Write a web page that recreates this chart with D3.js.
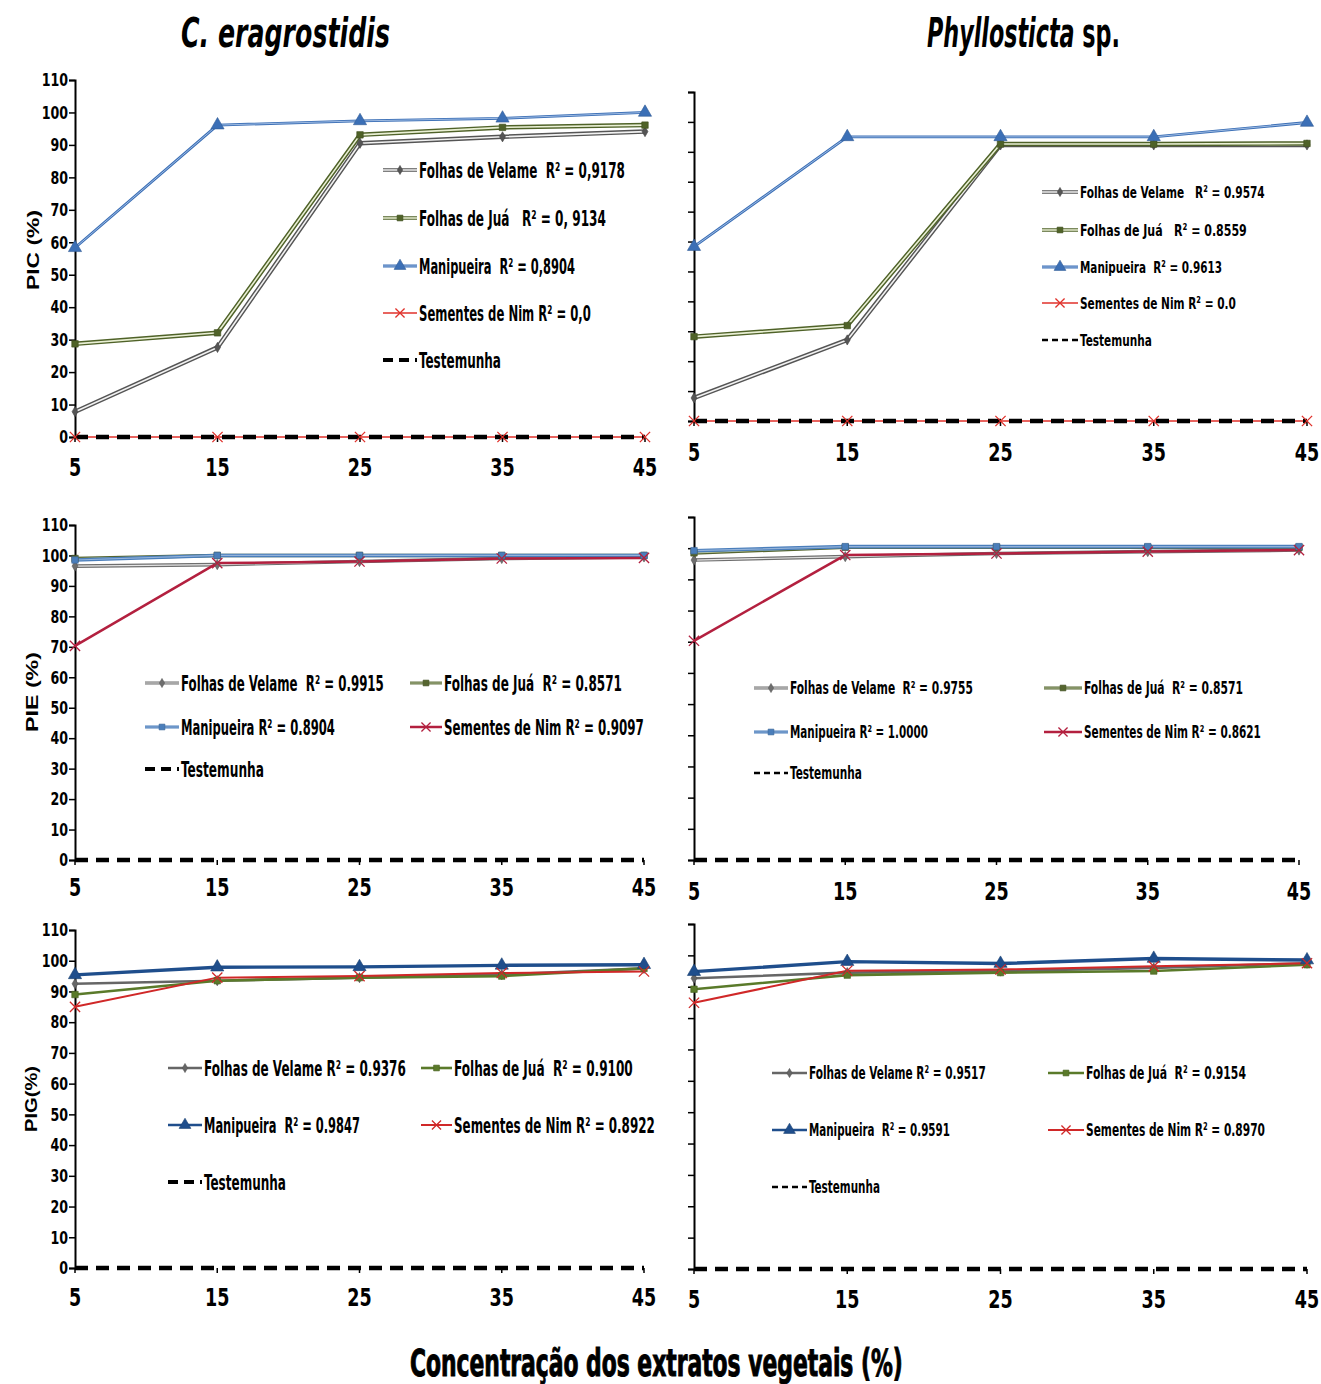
<!DOCTYPE html>
<html>
<head>
<meta charset="utf-8">
<script src="https://cdn.jsdelivr.net/npm/d3@7"></script>
<style>
  body { margin: 0; background: #fff; }
  svg { display: block; }
  .narrow { font-family: "Liberation Sans Narrow", "DejaVu Sans Condensed", Arial, sans-serif; font-weight: bold; }
</style>
</head>
<body>
<script>
// x categories and y ticks
var concentrations = [5, 15, 25, 35, 45];
var yTickValues = [0, 10, 20, 30, 40, 50, 60, 70, 80, 90, 100, 110];

// PIC - C. eragrostidis
var picCerVelame = [7.8, 27.6, 90.5, 92.5, 94.1];
var picCerJua = [28.7, 32.1, 93.1, 95.4, 96.1];
var picCerMani = [58.3, 96.1, 97.4, 98.2, 100];
var picCerNim = [0, 0, 0, 0, 0];
var picCerTest = [0, 0, 0, 0, 0];

// PIC - Phyllosticta sp.
var picPhyVelame = [7.7, 27.1, 92.3, 92.3, 92.3];
var picPhyJua = [28.2, 31.9, 92.6, 92.6, 92.8];
var picPhyMani = [58.3, 95, 95, 95, 99.8];
var picPhyNim = [0, 0, 0, 0, 0];
var picPhyTest = [0, 0, 0, 0, 0];

// PIE - C. eragrostidis
var pieCerVelame = [96.5, 97, 98, 99, 99.5];
var pieCerJua = [99, 100, 100, 100, 100];
var pieCerMani = [98.5, 100, 100, 100, 100];
var pieCerNim = [70.3, 97.5, 98, 99, 99.2];
var pieCerTest = [0, 0, 0, 0, 0];

// PIE - Phyllosticta sp.
var piePhyVelame = [96.2, 97.3, 98.3, 98.9, 99.4];
var piePhyJua = [98.5, 100.3, 100.3, 100.3, 100.3];
var piePhyMani = [99.2, 100.5, 100.5, 100.5, 100.5];
var piePhyNim = [70.3, 97.8, 98.3, 98.9, 99.4];
var piePhyTest = [0, 0, 0, 0, 0];

// PIG - C. eragrostidis
var pigCerVelame = [92.5, 93.5, 94.5, 95.5, 97.5];
var pigCerJua = [89, 93.5, 94.5, 95, 97.5];
var pigCerMani = [95.4, 97.9, 98, 98.5, 98.7];
var pigCerNim = [85, 94.5, 95, 96, 96.5];
var pigCerTest = [0, 0, 0, 0, 0];

// PIG - Phyllosticta sp.
var pigPhyVelame = [92.7, 94.5, 95, 96, 97.5];
var pigPhyJua = [89.2, 93.7, 94.5, 95, 97];
var pigPhyMani = [94.8, 98, 97.4, 99, 98.5];
var pigPhyNim = [84.9, 95.1, 95.5, 96.5, 97.5];
var pigPhyTest = [0, 0, 0, 0, 0];

// legend texts
var legendPicCer = ["Folhas de Velame  R² = 0,9178", "Folhas de Juá   R² = 0, 9134", "Manipueira  R² = 0,8904", "Sementes de Nim R² = 0,0", "Testemunha"];
var legendPicPhy = ["Folhas de Velame   R² = 0.9574", "Folhas de Juá   R² = 0.8559", "Manipueira  R² = 0.9613", "Sementes de Nim R² = 0.0", "Testemunha"];
var legendPieCer = ["Folhas de Velame  R² = 0.9915", "Folhas de Juá  R² = 0.8571", "Manipueira R² = 0.8904", "Sementes de Nim R² = 0.9097", "Testemunha"];
var legendPiePhy = ["Folhas de Velame  R² = 0.9755", "Folhas de Juá  R² = 0.8571", "Manipueira R² = 1.0000", "Sementes de Nim R² = 0.8621", "Testemunha"];
var legendPigCer = ["Folhas de Velame R² = 0.9376", "Folhas de Juá  R² = 0.9100", "Manipueira  R² = 0.9847", "Sementes de Nim R² = 0.8922", "Testemunha"];
var legendPigPhy = ["Folhas de Velame R² = 0.9517", "Folhas de Juá  R² = 0.9154", "Manipueira  R² = 0.9591", "Sementes de Nim R² = 0.8970", "Testemunha"];

var seriesKeys = ["velame", "jua", "mani", "nim", "test"];

// line styles per row of panels
var styleTop = {
    velame: {color: "#555555", width: 4.5, inner: "#f2f2f2", innerWidth: 1.6, symbol: "diamond"},
    jua: {color: "#4f6228", width: 4.5, inner: "#eaf0d5", innerWidth: 1.6, symbol: "square"},
    mani: {color: "#3b6fb6", width: 2.8, inner: "#a9c3e6", innerWidth: 0.9, symbol: "triangle"},
    nim: {color: "#e0302a", width: 1.3, symbol: "x"},
    test: {color: "#000", width: 4.5, dash: "13,8"}
};
var styleMid = {
    velame: {color: "#6e6e6e", width: 3.6, inner: "#e6e6e6", innerWidth: 1.2, symbol: "diamond"},
    jua: {color: "#55652f", width: 3.6, inner: "#b9c7a2", innerWidth: 1.2, symbol: "square"},
    mani: {color: "#4a7ebb", width: 3.6, inner: "#93b2d9", innerWidth: 1.2, symbol: "square"},
    nim: {color: "#b3203f", width: 2.5, symbol: "x"},
    test: {color: "#000", width: 4.5, dash: "13,8"}
};
var styleBot = {
    velame: {color: "#666666", width: 2.6, symbol: "diamond"},
    jua: {color: "#5a7a2a", width: 2.6, symbol: "square"},
    mani: {color: "#1f4e8c", width: 3.4, symbol: "triangle"},
    nim: {color: "#d02828", width: 2, symbol: "x"},
    test: {color: "#000", width: 4.5, dash: "13,8"}
};

var svg = d3.select("body").append("svg")
    .attr("width", 1321)
    .attr("height", 1384);

var symbolTypes = {
    diamond: d3.symbolDiamond,
    square: d3.symbolSquare,
    triangle: d3.symbolTriangle,
    x: d3.symbolX
};

// squeeze a text horizontally so that it spans the given width (the
// original uses a very condensed face)
function fitText(t, x, y, width, rotate) {
    var w = t.node().getComputedTextLength();
    t.attr("x", 0).attr("y", 0)
        .attr("transform", "translate(" + x + "," + y + ")" + (rotate ? " rotate(" + rotate + ")" : "") +
            " scale(" + (width / w) + ",1)");
    return t;
}

function drawMarker(g, s, cx, cy, scale) {
    if (!s.symbol) return;
    var size = {diamond: 30, square: 42, triangle: 75, x: 70}[s.symbol] * (scale || 1);
    var path = d3.symbol().type(symbolTypes[s.symbol]).size(size)();
    var m = g.append("path")
        .attr("d", path)
        .attr("transform", "translate(" + cx + "," + cy + ")");
    if (s.symbol === "x") {
        m.attr("fill", "none").attr("stroke", s.color).attr("stroke-width", 1.3);
    } else {
        m.attr("fill", s.color).attr("stroke", d3.color(s.color).darker(0.6)).attr("stroke-width", 0.6);
    }
}

function strokeLine(g, d, s) {
    var p = g.append("path")
        .attr("d", d)
        .attr("fill", "none")
        .attr("stroke", s.color)
        .attr("stroke-width", s.width)
        .attr("stroke-linejoin", "round");
    if (s.dash) p.attr("stroke-dasharray", s.dash);
    if (s.inner) {
        g.append("path")
            .attr("d", d)
            .attr("fill", "none")
            .attr("stroke", s.inner)
            .attr("stroke-width", s.innerWidth)
            .attr("stroke-linejoin", "round");
    }
}

function drawPanel(p) {
    var x = d3.scaleLinear().domain([5, 45]).range([p.left, p.right]);
    var y = d3.scaleLinear().domain([0, 110]).range([p.bottom, p.top]);
    var g = svg.append("g");

    // y axis
    var yAxis = d3.axisLeft(y)
        .tickValues(yTickValues)
        .tickSize(6)
        .tickPadding(3)
        .tickFormat(p.yLabels ? d3.format("d") : function() { return ""; });
    var ya = g.append("g")
        .attr("transform", "translate(" + p.left + ",0)")
        .call(yAxis);
    ya.select(".domain").attr("stroke", "#000").attr("stroke-width", 2);
    ya.selectAll(".tick line").attr("stroke", "#000").attr("stroke-width", 1.5);
    ya.selectAll(".tick text")
        .attr("class", "narrow")
        .attr("fill", "#000")
        .attr("transform", "scale(0.78,1)")
        .style("font-size", "18px");

    // x tick marks and labels
    g.selectAll(".xt").data(concentrations).enter().append("line")
        .attr("x1", function(d) { return x(d); })
        .attr("x2", function(d) { return x(d); })
        .attr("y1", p.bottom)
        .attr("y2", p.bottom + 5)
        .attr("stroke", "#000")
        .attr("stroke-width", 1.5);
    g.selectAll(".xl").data(concentrations).enter().append("text")
        .attr("class", "narrow")
        .attr("text-anchor", "middle")
        .attr("dy", "0.36em")
        .attr("transform", function(d) { return "translate(" + x(d) + "," + p.xLabelY + ") scale(0.78,1)"; })
        .style("font-size", "25px")
        .text(function(d) { return d; });

    // y title
    if (p.yTitle) {
        var yt = g.append("text")
            .attr("text-anchor", "middle")
            .attr("dy", "0.36em")
            .style("font-family", "'Liberation Sans', Arial, sans-serif")
            .style("font-weight", "bold")
            .style("font-size", "16px")
            .text(p.yTitle.replace(/ /g, "\u00a0"));
        fitText(yt, p.yTitleX, p.yTitleY, p.yTitleLen, -90);
    }

    var line = d3.line()
        .x(function(d, i) { return x(concentrations[i]); })
        .y(function(d) { return y(d); });

    // lines
    seriesKeys.forEach(function(k) {
        strokeLine(g, line(p.data[k]), p.style[k]);
    });
    // markers
    seriesKeys.forEach(function(k) {
        p.data[k].forEach(function(v, i) {
            drawMarker(g, p.style[k], x(concentrations[i]), y(v));
        });
    });

    // legend
    p.legend.items.forEach(function(it, i) {
        var k = seriesKeys[i];
        var s = p.style[k];
        var col = p.legend.cols[it.col];
        var lg = g.append("g");
        var ls = s;
        if (k === "test") ls = p.legend.testStyle;
        else if (s.width > 3) ls = Object.assign({}, s, {width: s.width * 0.8, innerWidth: s.innerWidth ? s.innerWidth * 0.8 : 0});
        strokeLine(lg, "M" + col.x0 + "," + it.y + "H" + col.x1, ls);
        if (k !== "test") drawMarker(lg, s, (col.x0 + col.x1) / 2, it.y, 0.8);
        var t = lg.append("text")
            .attr("class", "narrow")
            .attr("dy", "0.36em")
            .style("font-size", p.legend.fontSize + "px")
            .text(p.legend.texts[i].replace(/ /g, "\u00a0"));
        fitText(t, col.tx, it.y, it.end - col.tx);
    });
}

var thickDash = {color: "#000", width: 4, dash: "10,6"};
var thinDash = {color: "#000", width: 2.4, dash: "6,4"};

var panels = [
    {
        left: 75, right: 645, top: 80, bottom: 437, xLabelY: 467, yLabels: true,
        yTitle: "PIC (%)", yTitleX: 33, yTitleY: 250, yTitleLen: 80,
        style: styleTop,
        data: {velame: picCerVelame, jua: picCerJua, mani: picCerMani, nim: picCerNim, test: picCerTest},
        legend: {
            fontSize: 21, texts: legendPicCer, testStyle: thickDash,
            cols: [{x0: 383, x1: 417, tx: 419}],
            items: [{col: 0, y: 170, end: 625}, {col: 0, y: 218, end: 606}, {col: 0, y: 266, end: 575},
                    {col: 0, y: 313, end: 591}, {col: 0, y: 360, end: 501}]
        }
    },
    {
        left: 694, right: 1307, top: 92, bottom: 421, xLabelY: 452, yLabels: false,
        style: styleTop,
        data: {velame: picPhyVelame, jua: picPhyJua, mani: picPhyMani, nim: picPhyNim, test: picPhyTest},
        legend: {
            fontSize: 16.5, texts: legendPicPhy, testStyle: thinDash,
            cols: [{x0: 1042, x1: 1078, tx: 1080}],
            items: [{col: 0, y: 192, end: 1265}, {col: 0, y: 230, end: 1247}, {col: 0, y: 267, end: 1222},
                    {col: 0, y: 303, end: 1236}, {col: 0, y: 340, end: 1152}]
        }
    },
    {
        left: 75, right: 644, top: 525, bottom: 860, xLabelY: 887, yLabels: true,
        yTitle: "PIE (%)", yTitleX: 32, yTitleY: 692, yTitleLen: 80,
        style: styleMid,
        data: {velame: pieCerVelame, jua: pieCerJua, mani: pieCerMani, nim: pieCerNim, test: pieCerTest},
        legend: {
            fontSize: 21, texts: legendPieCer, testStyle: thickDash,
            cols: [{x0: 145, x1: 179, tx: 181}, {x0: 410, x1: 442, tx: 444}],
            items: [{col: 0, y: 683, end: 384}, {col: 1, y: 683, end: 622}, {col: 0, y: 727, end: 335},
                    {col: 1, y: 727, end: 644}, {col: 0, y: 769, end: 264}]
        }
    },
    {
        left: 694, right: 1299, top: 517, bottom: 860, xLabelY: 891, yLabels: false,
        style: styleMid,
        data: {velame: piePhyVelame, jua: piePhyJua, mani: piePhyMani, nim: piePhyNim, test: piePhyTest},
        legend: {
            fontSize: 17, texts: legendPiePhy, testStyle: thinDash,
            cols: [{x0: 754, x1: 788, tx: 790}, {x0: 1044, x1: 1082, tx: 1084}],
            items: [{col: 0, y: 688, end: 973}, {col: 1, y: 688, end: 1243}, {col: 0, y: 732, end: 928},
                    {col: 1, y: 732, end: 1261}, {col: 0, y: 773, end: 862}]
        }
    },
    {
        left: 75, right: 644, top: 930, bottom: 1268, xLabelY: 1297, yLabels: true,
        yTitle: "PIG(%)", yTitleX: 31, yTitleY: 1099, yTitleLen: 66,
        style: styleBot,
        data: {velame: pigCerVelame, jua: pigCerJua, mani: pigCerMani, nim: pigCerNim, test: pigCerTest},
        legend: {
            fontSize: 21, texts: legendPigCer, testStyle: thickDash,
            cols: [{x0: 168, x1: 202, tx: 204}, {x0: 421, x1: 452, tx: 454}],
            items: [{col: 0, y: 1068, end: 406}, {col: 1, y: 1068, end: 633}, {col: 0, y: 1125, end: 360},
                    {col: 1, y: 1125, end: 655}, {col: 0, y: 1182, end: 286}]
        }
    },
    {
        left: 694, right: 1307, top: 924, bottom: 1269, xLabelY: 1299, yLabels: false,
        style: styleBot,
        data: {velame: pigPhyVelame, jua: pigPhyJua, mani: pigPhyMani, nim: pigPhyNim, test: pigPhyTest},
        legend: {
            fontSize: 18, texts: legendPigPhy, testStyle: thinDash,
            cols: [{x0: 772, x1: 807, tx: 809}, {x0: 1048, x1: 1084, tx: 1086}],
            items: [{col: 0, y: 1073, end: 986}, {col: 1, y: 1073, end: 1246}, {col: 0, y: 1130, end: 950},
                    {col: 1, y: 1130, end: 1265}, {col: 0, y: 1187, end: 880}]
        }
    }
];

panels.forEach(drawPanel);

// column titles
var t1 = svg.append("text")
    .attr("class", "narrow")
    .style("font-size", "41px")
    .style("font-style", "italic")
    .text("C.\u00a0eragrostidis");
fitText(t1, 181, 47, 209);

var t2 = svg.append("text")
    .attr("class", "narrow")
    .style("font-size", "41px");
t2.append("tspan").style("font-style", "italic").text("Phyllosticta");
t2.append("tspan").text("\u00a0sp.");
fitText(t2, 927, 47, 193);

// x axis title
var t3 = svg.append("text")
    .attr("class", "narrow")
    .style("font-size", "37px")
    .attr("stroke", "#000").attr("stroke-width", 1)
    .text("Concentração\u00a0dos\u00a0extratos\u00a0vegetais\u00a0(%)");
fitText(t3, 410, 1376, 493);
</script>
</body>
</html>
